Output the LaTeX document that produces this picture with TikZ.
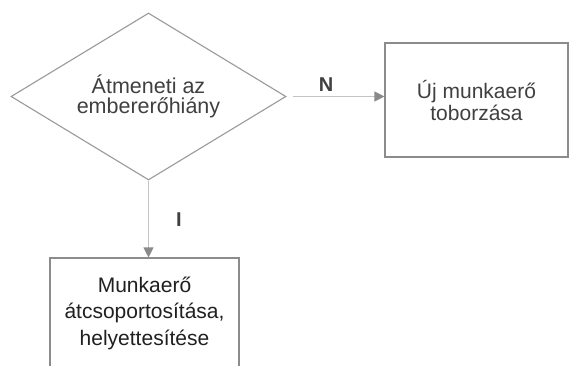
\documentclass[tikz,border=0pt]{standalone}
\usepackage{fontspec}
\setmainfont{Liberation Sans}
\usetikzlibrary{shapes.geometric,arrows.meta}
\definecolor{edgegray}{HTML}{9A9A9A}
\definecolor{boxgray}{HTML}{8C8C8C}
\definecolor{flowgray}{HTML}{C4C4C4}
\definecolor{tipgray}{HTML}{8A8A8A}
\definecolor{textgray}{HTML}{404040}
\definecolor{textdark}{HTML}{202020}
\tikzset{
  decision/.style={draw=edgegray, line width=1.1pt, shape=diamond, shape aspect=1.65,
    minimum width=275pt, minimum height=167pt, inner sep=0pt, align=center,
    text=textgray, font=\fontsize{21.5}{20.5}\selectfont},
  taskbox/.style={draw=boxgray, line width=1.1pt, rectangle, inner sep=0pt, align=center,
    font=\fontsize{21}{22}\selectfont},
  flow/.style={draw=flowgray, line width=1.1pt,
    -{Triangle[length=10pt,width=10pt,fill=tipgray,color=tipgray]}},
  branch/.style={font=\bfseries\fontsize{20}{22}\selectfont, text=textgray, inner sep=0pt}
}
\begin{document}
\begin{tikzpicture}[x=1pt,y=-1pt]
  \useasboundingbox (0,0) rectangle (570,366);
  \fill[white] (0,0) rectangle (570,366);

  % decision
  \node[decision] (dec) at (148.5,96.5) {Átmeneti az\\embererőhiány};

  % outcomes
  \node[taskbox, text=textgray, minimum width=183pt, minimum height=114pt]
    (hire) at (476.5,100) {Új munkaerő\\toborzása};
  \node[taskbox, text=textdark, minimum width=189pt, minimum height=110pt,
    font=\fontsize{21}{26.5}\selectfont]
    (move) at (144.5,313) {Munkaerő\\átcsoportosítása,\\helyettesítése};

  % connectors
  \draw[flow, shorten <=6pt] (dec.east) -- (dec.east -| hire.west);
  \draw[flow] (dec.south) -- (dec.south |- move.north);

  % branch labels
  \node[branch] (no) at (326,85) {N};
  \node[branch] (yes) at (179,220) {I};
\end{tikzpicture}
\end{document}
